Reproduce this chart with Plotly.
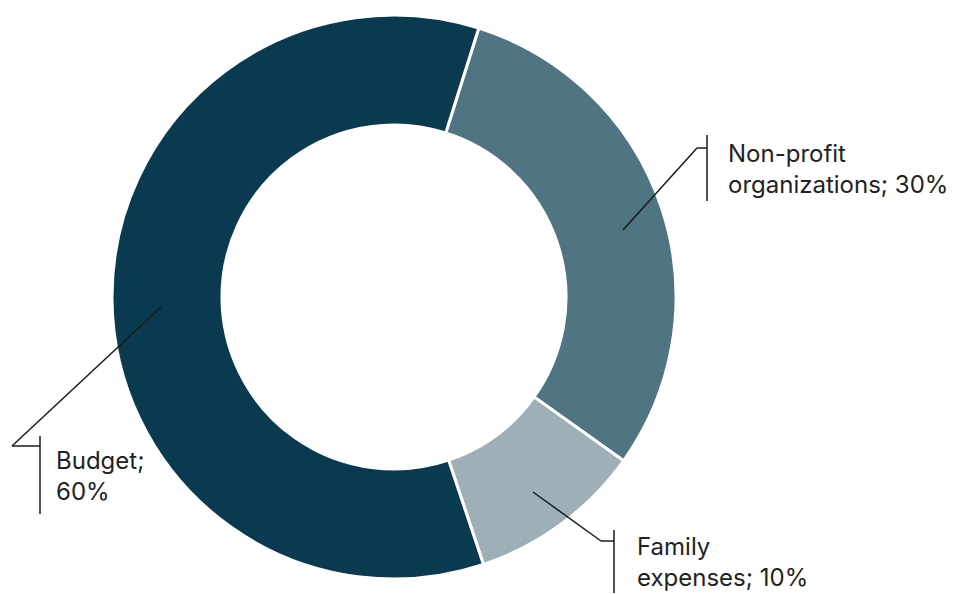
import plotly.graph_objects as go

labels = ["Non-profit organizations", "Family expenses", "Budget"]
values = [30, 10, 60]
colors = ["#4f7482", "#9db0b7", "#0a3a4f"]
label_texts = ["Non-profit<br>organizations; 30%", "Family<br>expenses; 10%", "Budget;<br>60%"]

W, H = 953, 594

fig = go.Figure(go.Pie(
    labels=labels, values=values, sort=False, direction="clockwise",
    rotation=17.5, hole=0.61, textinfo="none", hoverinfo="label+percent",
    marker=dict(colors=colors, line=dict(color="white", width=3)),
    domain=dict(x=[112 / W, 676 / W], y=[1 - 579 / H, 1 - 15 / H]),
    showlegend=False,
))

def px(x, y):
    return x / W, 1 - y / H

# callouts: (leader path points, bar x, bar y0, bar y1, text x, text block center y)
callouts = [
    ([(623, 230), (697, 148), (707, 148)], 707, 135, 201, 726, 169),
    ([(533, 492), (601, 541), (614, 541)], 614, 530, 593, 635, 562),
    ([(161, 307), (12, 446), (40, 446)], 40, 436, 514, 54, 476),
]

shapes = []
annotations = []
for (pts, bx, by0, by1, tx, ty), txt in zip(callouts, label_texts):
    for (x0, y0), (x1, y1) in zip(pts[:-1], pts[1:]):
        a, b = px(x0, y0)
        c, d = px(x1, y1)
        shapes.append(dict(type="line", xref="paper", yref="paper", x0=a, y0=b, x1=c, y1=d,
                           line=dict(color="#1a1a1a", width=1.5)))
    a, b = px(bx, by0)
    c, d = px(bx, by1)
    shapes.append(dict(type="line", xref="paper", yref="paper", x0=a, y0=b, x1=c, y1=d,
                       line=dict(color="#1a1a1a", width=1.5)))
    ax, ay = px(tx, ty)
    annotations.append(dict(x=ax, y=ay, xref="paper", yref="paper", text=txt, showarrow=False,
                            xanchor="left", yanchor="middle", align="left",
                            font=dict(family="Inter, Roboto, sans-serif", size=24, color="#222222")))

fig.update_layout(
    width=W, height=H, margin=dict(l=0, r=0, t=0, b=0),
    paper_bgcolor="white", plot_bgcolor="white",
    shapes=shapes, annotations=annotations,
)

fig.write_html("out.html")
